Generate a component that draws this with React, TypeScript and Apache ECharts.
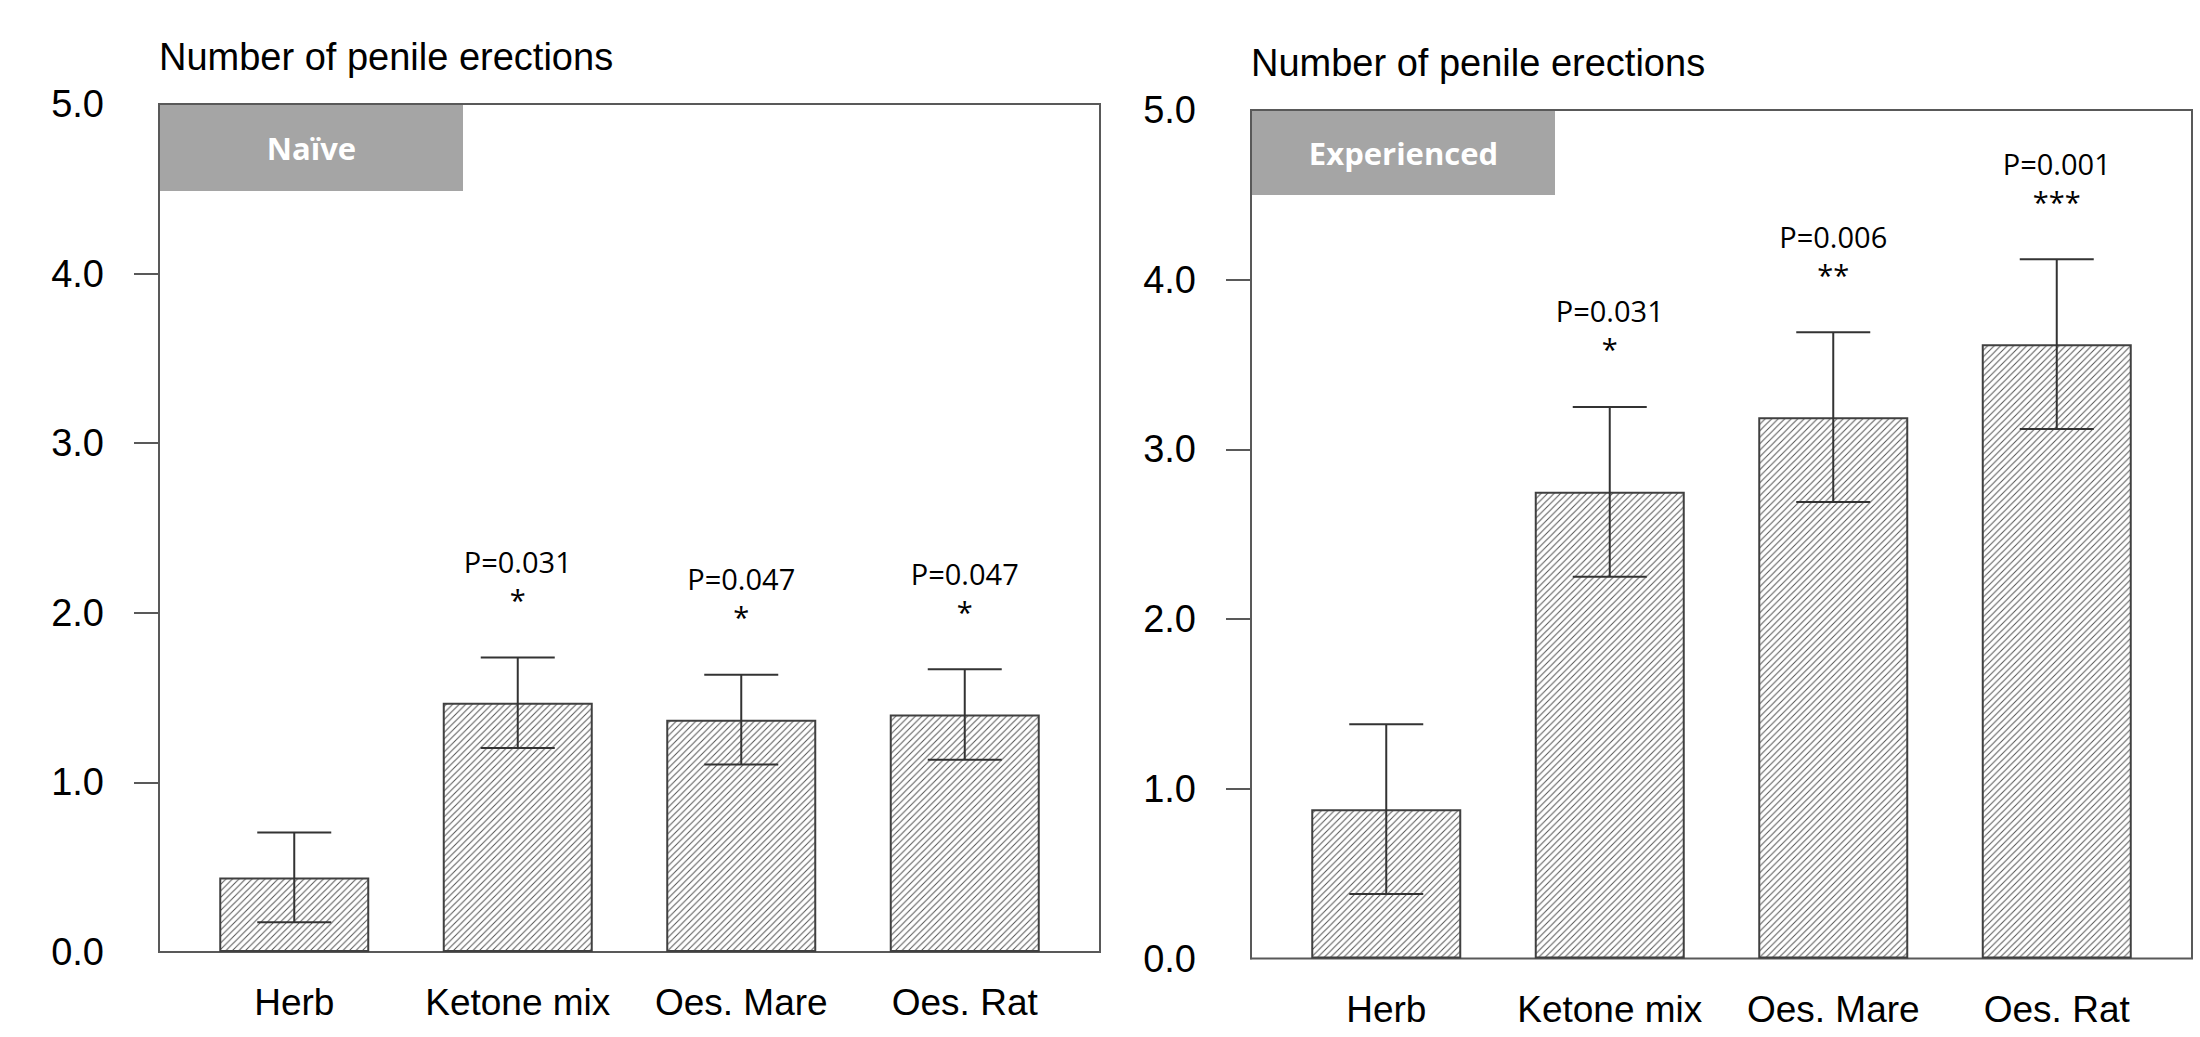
import React, { useEffect, useRef } from "react";
import * as echarts from "echarts";

const categories = ["Herb", "Ketone mix", "Oes. Mare", "Oes. Rat"];

const naiveMeans = [0.44, 1.47, 1.37, 1.4];
const naiveSE = [0.265, 0.267, 0.265, 0.267];
const naivePValues = ["", "P=0.031", "P=0.047", "P=0.047"];
const naiveStars = ["", "*", "*", "*"];

const expMeans = [0.88, 2.75, 3.19, 3.62];
const expSE = [0.5, 0.5, 0.5, 0.5];
const expPValues = ["", "P=0.031", "P=0.006", "P=0.001"];
const expStars = ["", "*", "**", "***"];

const yLabelValues = [0, 1, 2, 3, 4, 5];
const yTickValues = [1, 2, 3, 4];
const yMin = 0;
const yMax = 5;
const yAxisTitle = "Number of penile erections";
const panelNames = ["Naïve", "Experienced"];

const AXIS_FONT = '"Liberation Sans", Arial, sans-serif';
const NOTE_FONT = '"Open Sans", "Noto Sans", sans-serif';
const FRAME = "#595959";
const DARK = "#404040";

const S = 6.5;
const hatchSvg =
  `<svg xmlns='http://www.w3.org/2000/svg' width='${S}' height='${S}' viewBox='0 0 ${S} ${S}'>` +
  `<rect width='${S}' height='${S}' fill='white'/>` +
  `<path d='M0,${S} L${S},0 M${-S / 2},${S / 2} L${S / 2},${-S / 2} M${S / 2},${S * 1.5} L${S * 1.5},${S / 2}' stroke='#555' stroke-width='1'/>` +
  `</svg>`;
const hatch: any = {
  image: "data:image/svg+xml;charset=utf-8," + encodeURIComponent(hatchSvg),
  repeat: "repeat",
  imageWidth: S,
  imageHeight: S,
};

const panels = [
  { left: 159, top: 104, width: 941, height: 848, means: naiveMeans, se: naiveSE, p: naivePValues, stars: naiveStars, name: panelNames[0] },
  { left: 1251, top: 110, width: 941, height: 848.5, means: expMeans, se: expSE, p: expPValues, stars: expStars, name: panelNames[1] },
];
const INSET = 23.5;

function buildOption() {
  const grid: any[] = [];
  const xAxis: any[] = [];
  const yAxis: any[] = [];
  const series: any[] = [];
  const graphic: any[] = [];

  panels.forEach((pn, k) => {
    const outer = k * 2;
    const inner = k * 2 + 1;
    grid.push({
      left: pn.left,
      top: pn.top,
      width: pn.width,
      height: pn.height,
      show: true,
      borderColor: FRAME,
      borderWidth: 2,
      backgroundColor: "transparent",
    });
    grid.push({
      left: pn.left + INSET,
      top: pn.top,
      width: pn.width - 2 * INSET,
      height: pn.height,
    });
    xAxis.push({ gridIndex: outer, type: "value", show: false, min: 0, max: 1 });
    xAxis.push({
      gridIndex: inner,
      type: "category",
      data: categories,
      axisLine: { show: false },
      axisTick: { show: false },
      axisLabel: { interval: 0, fontSize: 37, color: "#000", fontFamily: AXIS_FONT, margin: 32 },
    });
    yAxis.push({
      gridIndex: outer,
      type: "value",
      min: yMin,
      max: yMax,
      interval: 1,
      name: yAxisTitle,
      nameLocation: "end",
      nameGap: 47,
      nameTextStyle: {
        align: "left",
        verticalAlign: "middle",
        fontSize: 38,
        color: "#000",
        fontFamily: AXIS_FONT,
      },
      axisLine: { show: true, lineStyle: { color: FRAME, width: 2 } },
      axisTick: {
        show: true,
        length: 25,
        inside: false,
        customValues: yTickValues,
        lineStyle: { color: FRAME, width: 2 },
      },
      axisLabel: {
        customValues: yLabelValues,
        formatter: (v: number) => v.toFixed(1),
        fontSize: 38,
        color: "#000",
        fontFamily: AXIS_FONT,
        margin: 55,
        padding: [8, 0, 0, 0],
      },
      splitLine: { show: false },
    });
    yAxis.push({ gridIndex: inner, type: "value", min: yMin, max: yMax, show: false });

    series.push({
      type: "bar",
      xAxisIndex: inner,
      yAxisIndex: inner,
      data: pn.means,
      barWidth: 150,
      itemStyle: { color: hatch, borderColor: DARK, borderWidth: 2 },
      z: 2,
    });

    const pTexts = pn.p;
    const starTexts = pn.stars;
    series.push({
      type: "custom",
      xAxisIndex: inner,
      yAxisIndex: inner,
      z: 5,
      data: pn.means.map((m, i) => [i, m, pn.se[i]]),
      renderItem: (params: any, api: any) => {
        const idx = api.value(0);
        const mean = api.value(1);
        const se = api.value(2);
        const top = api.coord([idx, mean + se]);
        const bot = api.coord([idx, mean - se]);
        const half = 37;
        const ls = { stroke: "#333", lineWidth: 2 };
        const children: any[] = [
          { type: "line", shape: { x1: top[0], y1: top[1], x2: bot[0], y2: bot[1] }, style: ls },
          { type: "line", shape: { x1: top[0] - half, y1: top[1], x2: top[0] + half, y2: top[1] }, style: ls },
          { type: "line", shape: { x1: bot[0] - half, y1: bot[1], x2: bot[0] + half, y2: bot[1] }, style: ls },
        ];
        const pt = pTexts[params.dataIndex];
        const st = starTexts[params.dataIndex];
        if (pt) {
          children.push({
            type: "text",
            x: top[0],
            y: top[1] - 96,
            style: {
              text: pt,
              fill: "#000",
              fontSize: 29,
              fontFamily: NOTE_FONT,
              align: "center",
              verticalAlign: "middle",
            },
          });
        }
        if (st) {
          children.push({
            type: "text",
            x: top[0],
            y: top[1] - 58,
            style: {
              text: st,
              fill: "#000",
              fontSize: 29,
              fontFamily: NOTE_FONT,
              align: "center",
              verticalAlign: "middle",
            },
          });
        }
        return { type: "group", children };
      },
    });

    const boxW = 303;
    const boxH = k === 0 ? 86 : 84;
    graphic.push({
      type: "rect",
      x: pn.left + 1,
      y: pn.top + 1,
      shape: { width: boxW, height: boxH },
      style: { fill: "#a5a5a5" },
      z: 10,
    });
    graphic.push({
      type: "text",
      x: pn.left + 1 + boxW / 2,
      y: pn.top + 1 + boxH / 2,
      style: {
        text: pn.name,
        fill: "#fff",
        fontSize: 31,
        fontWeight: "bold",
        fontFamily: NOTE_FONT,
        align: "center",
        verticalAlign: "middle",
        textAlign: "center",
        textVerticalAlign: "middle",
      },
      z: 11,
    });
  });

  return {
    animation: false,
    backgroundColor: "#fff",
    grid,
    xAxis,
    yAxis,
    series,
    graphic,
  };
}

export default function App() {
  const ref = useRef<HTMLDivElement>(null);
  useEffect(() => {
    if (!ref.current) return;
    const chart = echarts.init(ref.current, undefined, { renderer: "svg" });
    chart.setOption(buildOption() as any);
    return () => chart.dispose();
  }, []);
  return (
    <div
      ref={ref}
      style={{ position: "fixed", left: 0, top: 0, width: 2200, height: 1037, background: "#fff" }}
    />
  );
}
